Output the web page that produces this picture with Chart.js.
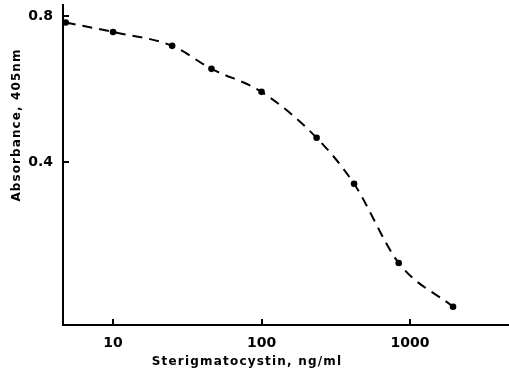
<!DOCTYPE html>
<html>
<head>
<meta charset="utf-8">
<script src="https://cdn.jsdelivr.net/npm/chart.js@4/dist/chart.umd.min.js"></script>
<style>
  html, body { margin: 0; padding: 0; background: #fff; }
  #wrap { width: 509px; height: 375px; }
</style>
</head>
<body>
<div id="wrap"><canvas id="absorbanceChart" width="509" height="375"></canvas></div>
<script>
// sterigmatocystin concentration (ng/ml) vs absorbance at 405 nm
const concentrations = [4.8, 10, 25, 46, 100, 235, 420, 840, 1950]
const absorbance = [0.782, 0.756, 0.718, 0.655, 0.592, 0.466, 0.340, 0.123, 0.003]
const xTickValues = [10, 100, 1000]
const yTickValues = [0.4, 0.8]
const xTitle = 'Sterigmatocystin, ng/ml'
const yTitle = 'Absorbance, 405nm'

const fontFamily = '"DejaVu Sans", Verdana, sans-serif'

// short tick marks drawn inside the plot, plus the two axis titles
const innerTicks = {
    id: 'innerTicks',
    afterDraw(chart) {
        const {ctx, chartArea, scales} = chart
        ctx.save()
        ctx.strokeStyle = '#000'
        ctx.lineWidth = 2
        xTickValues.forEach(v => {
            const px = Math.round(scales.x.getPixelForValue(v))
            ctx.beginPath()
            ctx.moveTo(px, chartArea.bottom)
            ctx.lineTo(px, chartArea.bottom - 6)
            ctx.stroke()
        })
        yTickValues.forEach(v => {
            const py = Math.round(scales.y.getPixelForValue(v))
            ctx.beginPath()
            ctx.moveTo(chartArea.left, py)
            ctx.lineTo(chartArea.left + 6, py)
            ctx.stroke()
        })

        ctx.fillStyle = '#000'
        ctx.textAlign = 'center'
        ctx.textBaseline = 'middle'
        ctx.font = `bold 12px ${fontFamily}`
        ctx.letterSpacing = '1.2px'
        ctx.fillText(xTitle, 247, 362)

        ctx.letterSpacing = '1.1px'
        ctx.translate(17, 125)
        ctx.rotate(-Math.PI / 2)
        ctx.fillText(yTitle, 0, 0)
        ctx.restore()
    }
}

const noPadding = scale => {
    scale.paddingTop = 0
    scale.paddingBottom = 0
    scale.paddingLeft = 0
    scale.paddingRight = 0
}

const ctx = document.getElementById('absorbanceChart').getContext('2d')

new Chart(ctx, {
    type: 'line',
    data: {
        labels: concentrations,
        datasets: [{
            data: concentrations.map((c, i) => ({x: c, y: absorbance[i]})),
            borderColor: '#000',
            backgroundColor: '#000',
            borderWidth: 2,
            borderDash: [10, 7],
            cubicInterpolationMode: 'monotone',
            pointRadius: 3.3,
            pointBorderWidth: 0,
            pointBackgroundColor: '#000',
            fill: false
        }]
    },
    options: {
        responsive: false,
        animation: false,
        layout: {autoPadding: false, padding: {top: 5, right: 0, left: 0, bottom: 0}},
        plugins: {
            legend: {display: false},
            tooltip: {enabled: false}
        },
        scales: {
            x: {
                type: 'logarithmic',
                min: 4.6,
                max: 4645,
                afterBuildTicks: scale => {
                    scale.ticks = xTickValues.map(value => ({value}))
                },
                afterFit: scale => { scale.height = 50; noPadding(scale) },
                grid: {display: false, drawTicks: false},
                border: {display: true, color: '#000', width: 2},
                ticks: {
                    color: '#000',
                    padding: 10,
                    maxRotation: 0,
                    font: {family: fontFamily, size: 14, weight: 'bold'},
                    callback: value => String(value)
                }
            },
            y: {
                type: 'linear',
                min: -0.047,
                max: 0.83,
                afterBuildTicks: scale => {
                    scale.ticks = yTickValues.map(value => ({value}))
                },
                afterFit: scale => { scale.width = 63; noPadding(scale) },
                grid: {display: false, drawTicks: false},
                border: {display: true, color: '#000', width: 2},
                ticks: {
                    color: '#000',
                    padding: 10,
                    font: {family: fontFamily, size: 14, weight: 'bold'},
                    callback: value => Number(value).toFixed(1)
                }
            }
        }
    },
    plugins: [innerTicks]
})
</script>
</body>
</html>
